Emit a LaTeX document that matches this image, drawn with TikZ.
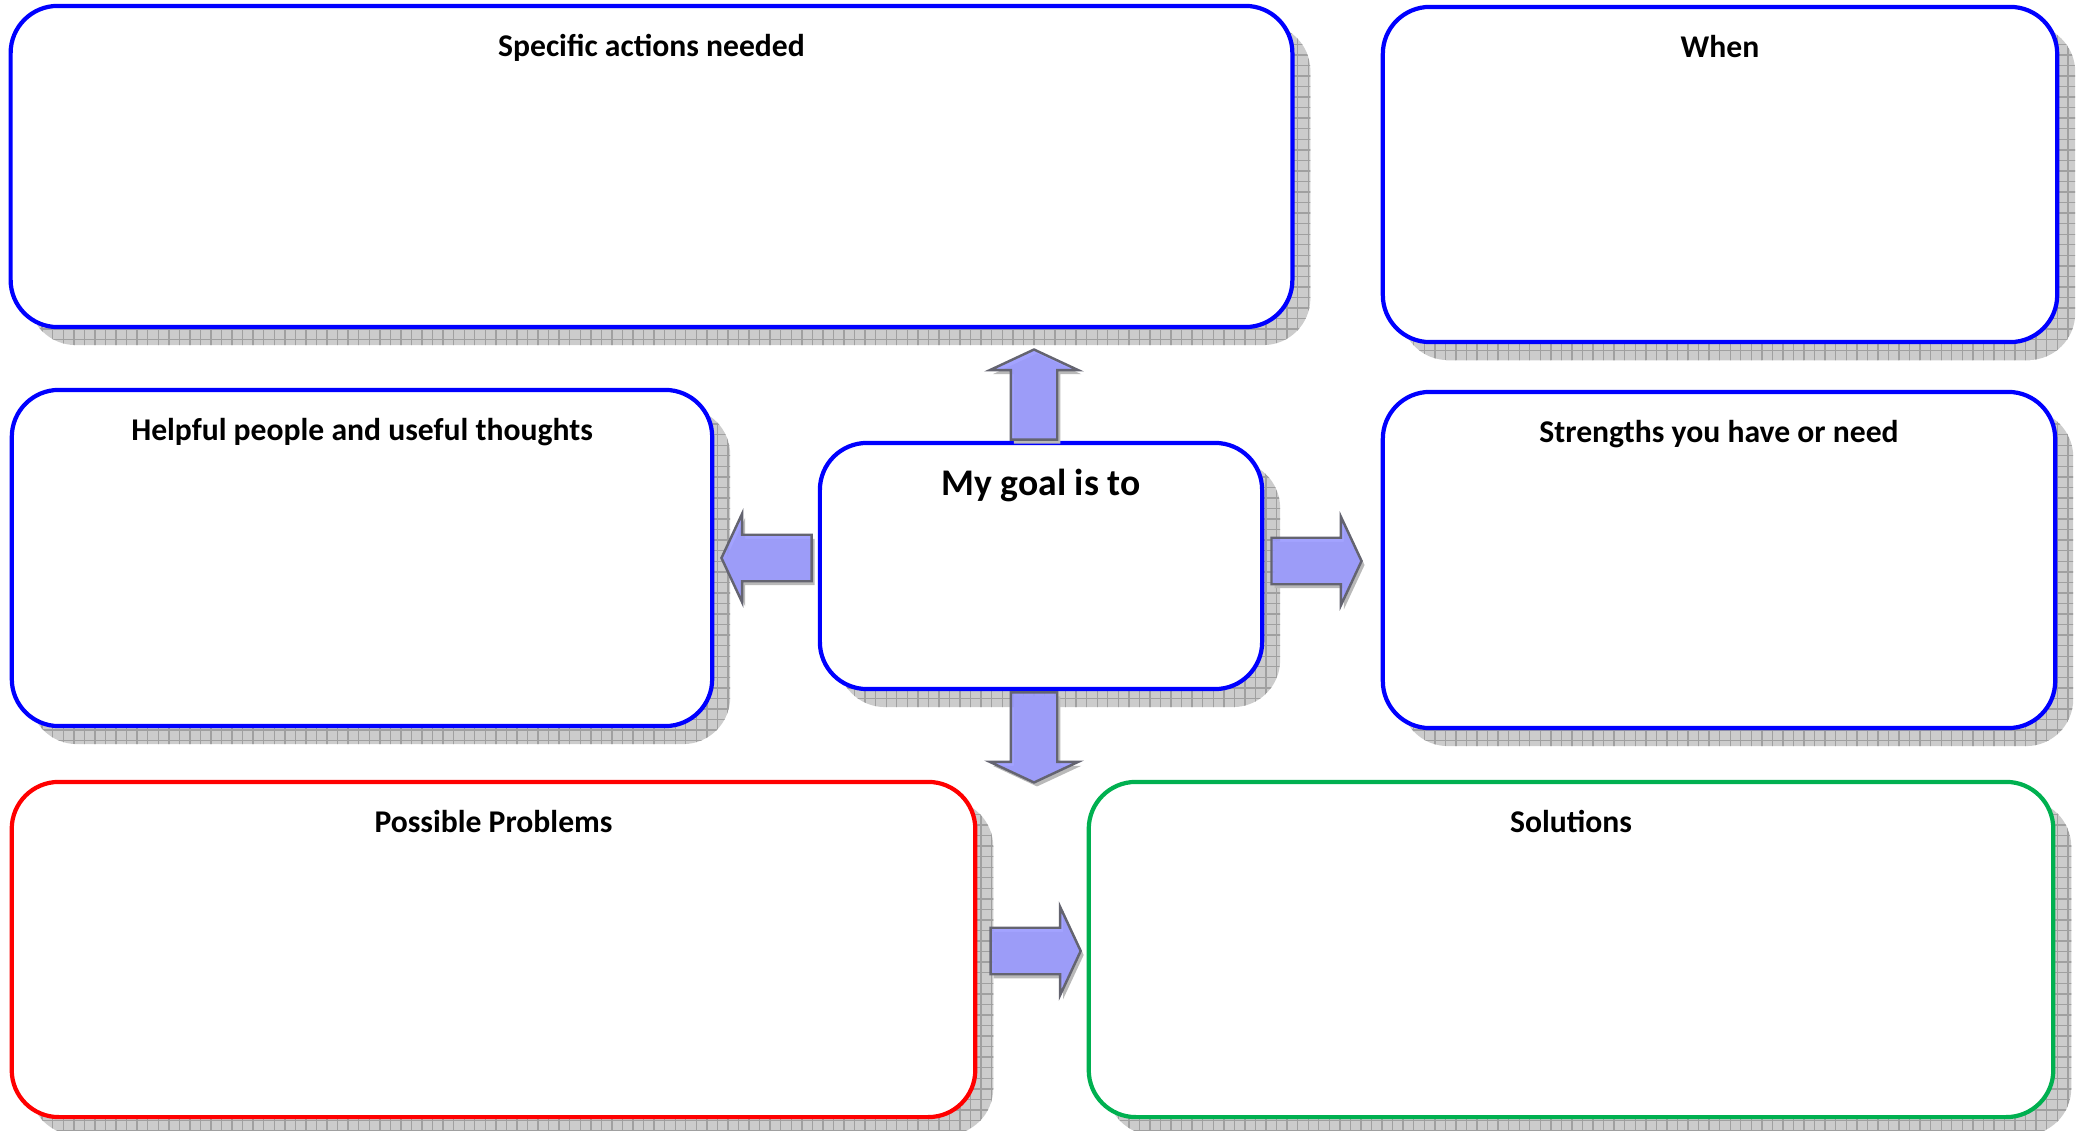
\documentclass[tikz,border=0pt]{standalone}
\usepackage{fontspec}
\setmainfont{Carlito}
\usetikzlibrary{positioning,shapes.arrows,patterns}

\definecolor{boxblue}{RGB}{0,0,255}
\definecolor{boxred}{RGB}{255,0,0}
\definecolor{boxgreen}{RGB}{0,176,80}
\definecolor{arrowfill}{RGB}{153,153,255}
\definecolor{arrowedge}{RGB}{100,100,112}
\definecolor{shadowgray}{RGB}{204,204,204}
\definecolor{gridgray}{RGB}{160,160,160}

\tikzset{
    box/.style={draw=#1, line width=1.2pt, fill=white, rounded corners=0.47cm, inner sep=0pt,
        preaction={fill=shadowgray, transform canvas={shift={(0.18cm,-0.18cm)}}},
        preaction={pattern=grid, pattern color=gridgray, transform canvas={shift={(0.18cm,-0.18cm)}}}},
    title/.style={font=\bfseries\fontsize{9}{11}\selectfont, inner sep=0pt},
    goaltitle/.style={font=\bfseries\fontsize{10.7}{13}\selectfont, inner sep=0pt},
    blockarrow/.style={single arrow, draw=arrowedge, line width=0.7pt, fill=arrowfill, fill opacity=0.9,
        minimum height=0.9cm, minimum width=0.86cm, inner xsep=0pt, inner ysep=0.22cm,
        single arrow head extend=0.21cm, single arrow tip angle=130, anchor=tail,
        preaction={fill=gray!55, fill opacity=1, transform canvas={shift={(0.03cm,-0.04cm)}}}}
}

\begin{document}
\begin{tikzpicture}[x=0.01cm, y=-0.01cm]
        \useasboundingbox (0,0) rectangle (2080,1131);

        \node[box=boxblue, minimum width=12.81cm, minimum height=3.21cm] (actions) at (651.5,166.5) {};
        \node[box=boxblue, minimum width=6.74cm, minimum height=3.35cm] (when) at (1720,174.5) {};
        \node[box=boxblue, minimum width=7.00cm, minimum height=3.36cm] (helpful) at (362,558) {};
        \node[box=boxblue, minimum width=4.42cm, minimum height=2.46cm] (goal) at (1041,566) {};
        \node[box=boxblue, minimum width=6.72cm, minimum height=3.36cm] (strengths) at (1719,560) {};
        \node[box=boxred, minimum width=9.63cm, minimum height=3.35cm] (problems) at (493.5,949.5) {};
        \node[box=boxgreen, minimum width=9.64cm, minimum height=3.35cm] (solutions) at (1571,949.5) {};

        \node[title, below=0.3cm of actions.north] (actionsT) {Specific actions needed};
        \node[title, below=0.3cm of when.north] (whenT) {When};
        \node[title, below=0.3cm of helpful.north] (helpfulT) {Helpful people and useful thoughts};
        \node[goaltitle, below=0.28cm of goal.north] (goalT) {My goal is to};
        \node[title, below=0.3cm of strengths.north] (strengthsT) {Strengths you have or need};
        \node[title, below=0.3cm of problems.north] (problemsT) {Possible Problems};
        \node[title, below=0.3cm of solutions.north] (solutionsT) {Solutions};

        \node[blockarrow, rotate=90] (upArrow) at ([xshift=-0.07cm]goal.north) {};
        \node[blockarrow, rotate=-90] (downArrow) at ([xshift=-0.07cm]goal.south) {};
        \node[blockarrow, rotate=180] (leftArrow) at ([xshift=-0.05cm, yshift=0.08cm]goal.west) {};
        \node[blockarrow] (rightArrow) at ([xshift=0.06cm, yshift=0.05cm]goal.east) {};
        \node[blockarrow] (fixArrow) at ([xshift=0.12cm, yshift=-0.015cm]problems.east) {};
    \end{tikzpicture}
\end{document}
